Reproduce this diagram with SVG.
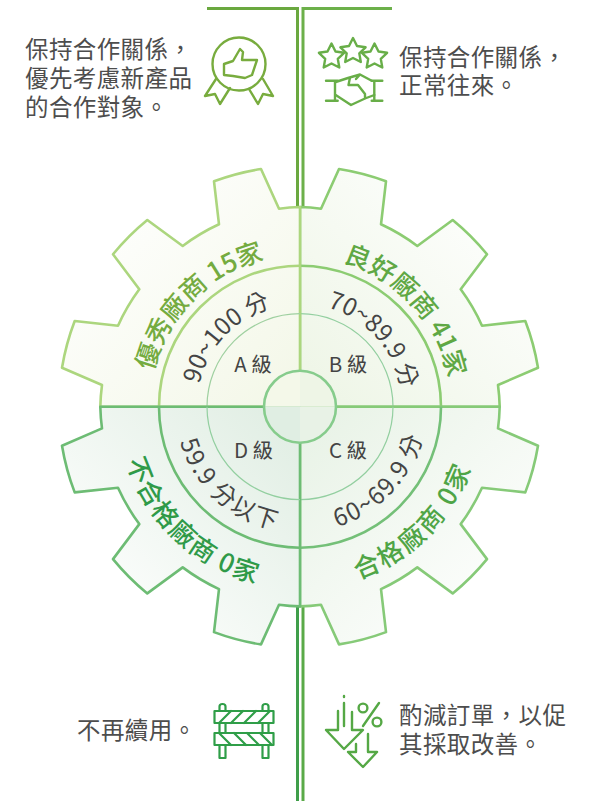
<svg xmlns="http://www.w3.org/2000/svg" width="596" height="801" viewBox="0 0 596 801">
<style>
text{font-family:"Noto Sans CJK TC","Noto Sans CJK SC",sans-serif}
.t{font-size:23.5px;fill:#4d4d4d;letter-spacing:.4px}
.o{font-size:26px;font-weight:500}
.m{font-size:24px;fill:#444}
.mb{font-size:24px;fill:#444;letter-spacing:1.6px}
.g{font-size:20.5px;fill:#444;text-anchor:middle}
.i{fill:none;stroke-width:2.4;stroke-linecap:round;stroke-linejoin:round}
.c{fill:none;stroke-width:3}
.r1{fill:none;stroke-width:2.6}
.r2{fill:none;stroke-width:1.2}
.gear{stroke-width:2.6;stroke-linejoin:round}
</style>
<defs>
<path id="gearTL" d="M-199.7,0 A200 200 0 0 1 -198,-21.7 L-238,-39 A241 241 0 0 1 -225.3,-85.7 L-182,-81 A200 200 0 0 1 -160.7,-117.4 L-187,-152.4 A241 241 0 0 1 -152.7,-186.7 L-117.3,-160.7 A200 200 0 0 1 -81,-182.4 L-86,-225.4 A241 241 0 0 1 -39,-237.7 L-21,-198 A200 200 0 0 1 0,-199.7 L0,0 Z"/>
<path id="star" d="M353,38 L357,46 L365.6,47.3 L359.3,53.4 L360.8,62 L353,58 L345.2,62 L346.7,53.4 L340.4,47.3 L349,46Z"/>
<linearGradient id="fTL" x1="0" y1="0" x2="1" y2="1"><stop offset=".1" stop-color="#fff"/><stop offset="1" stop-color="#f3f7e7"/></linearGradient>
<linearGradient id="fTR" x1="0" y1="0" x2="1" y2="1"><stop offset=".1" stop-color="#fff"/><stop offset="1" stop-color="#edf5e5"/></linearGradient>
<linearGradient id="fBR" x1="0" y1="0" x2="1" y2="1"><stop offset=".1" stop-color="#fff"/><stop offset="1" stop-color="#e7f2e5"/></linearGradient>
<linearGradient id="fBL" x1="0" y1="0" x2="1" y2="1"><stop offset=".1" stop-color="#fff"/><stop offset="1" stop-color="#dfede2"/></linearGradient>
<path id="oTL" d="M149,406.7 A151 151 0 0 1 300,255.7"/>
<path id="oTR" d="M300,255.7 A151 151 0 0 1 451,406.7"/>
<path id="oBL" d="M118,406.7 A182 182 0 0 0 300,588.7"/>
<path id="oBR" d="M300,588.7 A182 182 0 0 0 482,406.7"/>
<path id="mTL" d="M197,406.7 A103 103 0 0 1 300,303.7"/>
<path id="mTR" d="M300,303.7 A103 103 0 0 1 403,406.7"/>
<path id="mBL" d="M175,406.7 A125 125 0 0 0 300,531.7"/>
<path id="mBR" d="M300,532.7 A126 126 0 0 0 426,406.7"/>
</defs>
<g id="connectors">
<path class="c" stroke="#6aa83f" d="M207,8.5H297.5V209"/>
<path class="c" stroke="#6cb04a" d="M392,8.5H303V209"/>
<path class="c" stroke="#3f9e4a" d="M297.5,604V801"/>
<path class="c" stroke="#5aaa48" d="M303,604V801"/>
</g>
<g id="gear-b">
<use href="#gearTL" class="gear" fill="url(#fTR)" stroke="#8ccc72" transform="translate(300 406.7) scale(-1 1)"/>
<path class="r1" stroke="#8ccc72" d="M300,265.7A141 141 0 0 1 441,406.7"/>
<path class="r2" stroke="#93cfa0" d="M300,313.7A93 93 0 0 1 393,406.7"/>
<text class="o" fill="#5fa844"><textPath href="#oTR" startOffset="53%" text-anchor="middle">良好廠商 41家</textPath></text>
<text class="m"><textPath href="#mTR" startOffset="53%" text-anchor="middle">70~89.9 分</textPath></text>
<text class="g" x="348" y="372">B 級</text>
</g>
<g id="gear-c">
<use href="#gearTL" class="gear" fill="url(#fBR)" stroke="#86ca78" transform="translate(300 406.7) scale(-1 -1)"/>
<path class="r1" stroke="#74c078" d="M441,406.7A141 141 0 0 1 300,547.7"/>
<path class="r2" stroke="#93cfa0" d="M393,406.7A93 93 0 0 1 300,499.7"/>
<text class="o" fill="#4fa546" letter-spacing="2"><textPath href="#oBR" startOffset="49.5%" text-anchor="middle">合格廠商 0家</textPath></text>
<text class="mb"><textPath href="#mBR" startOffset="52%" text-anchor="middle">60~69.9 分</textPath></text>
<text class="g" x="348" y="458">C 級</text>
</g>
<g id="gear-a">
<use href="#gearTL" class="gear" fill="url(#fTL)" stroke="#acd67e" transform="translate(300 406.7)"/>
<path class="r1" stroke="#acd67e" d="M159,406.7A141 141 0 0 1 300,265.7"/>
<path class="r2" stroke="#9fd0a0" d="M207,406.7A93 93 0 0 1 300,313.7"/>
<text class="o" fill="#74ab40"><textPath href="#oTL" startOffset="50%" text-anchor="middle">優秀廠商 15家</textPath></text>
<text class="m"><textPath href="#mTL" startOffset="48%" text-anchor="middle">90~100 分</textPath></text>
<text class="g" x="253" y="372">A 級</text>
</g>
<g id="gear-d">
<use href="#gearTL" class="gear" fill="url(#fBL)" stroke="#6dbc74" transform="translate(300 406.7) scale(1 -1)"/>
<path class="r1" stroke="#6dbc74" d="M300,547.7A141 141 0 0 1 159,406.7"/>
<path class="r2" stroke="#93cfa0" d="M300,499.7A93 93 0 0 1 207,406.7"/>
<text class="o" fill="#2f9a48" letter-spacing="1.2"><textPath href="#oBL" startOffset="52%" text-anchor="middle">不合格廠商 0家</textPath></text>
<text class="mb"><textPath href="#mBL" startOffset="53%" text-anchor="middle">59.9 分以下</textPath></text>
<text class="g" x="253.5" y="458">D 級</text>
</g>
<g id="hub">
<path fill="#f4f8e9" d="M264,406.7A36 36 0 0 1 300,370.7V406.7Z"/>
<path fill="#eef5e6" d="M300,370.7A36 36 0 0 1 336,406.7H300Z"/>
<path fill="#e8f2e6" d="M336,406.7A36 36 0 0 1 300,442.7V406.7Z"/>
<path fill="#e0eee3" d="M300,442.7A36 36 0 0 1 264,406.7H300Z"/>
<circle cx="300" cy="406.7" r="36" fill="none" stroke="#86cc8c" stroke-width="2.6"/>
</g>
<g id="note-top-left">
<text class="t" x="25" y="58">保持合作關係，</text>
<text class="t" x="25" y="87">優先考慮新產品</text>
<text class="t" x="25" y="116">的合作對象。</text>
<g class="i" stroke="#78ac3e">
<circle cx="239" cy="64" r="26.5"/>
<path d="M216,79L205,96L215,94L220,104L230,88M263,79L273,96L263,94L258,104L249,89"/>
<path d="M224,64L233,61L240,49L243,52L242,60L257,60L252,75L245,78L233,76L224,75Z"/>
</g>
</g>
<g id="note-top-right">
<text class="t" x="399" y="66">保持合作關係，</text>
<text class="t" x="399" y="94">正常往來。</text>
<g class="i" stroke="#68ae48">
<use href="#star"/>
<use href="#star" x="-21.5" y="5.5"/>
<use href="#star" x="21.5" y="5.5"/>
<path d="M326,80.7H337.7M335,80.7V100.7M326,100.7H337.7M371.7,80.7H382.3M374.3,80.7V100.7M371.7,100.7H382.3"/>
<path d="M335.7,82L348,78L360,74.5L371.7,80.7M335.7,95L351,105L365,98.5L374.3,95M350,77.5L348.5,85L358,85L365,94V98.5M360,74.5L356,79"/>
</g>
</g>
<g id="note-bottom-left">
<text class="t" x="77" y="739">不再續用。</text>
<g class="i" stroke="#2f9e48">
<rect x="214.5" y="711" width="59" height="12" stroke-width="2.2"/>
<rect x="214.5" y="733" width="59" height="12" stroke-width="2.2"/>
<path stroke-width="2.2" d="M219.5,711V706.5Q219.5,704 222.5,704Q225.5,704 225.5,706.5V711M262.5,711V706.5Q262.5,704 265.5,704Q268.5,704 268.5,706.5V711M219.5,723V733M225.5,723V733M262.5,723V733M268.5,723V733M219.5,745V758H225.5V745M262.5,745V758H268.5V745"/>
<path stroke-width="2.2" d="M219,723L231,711M231,723L243,711M244,723L256,711M258,723L270,711M219,733L231,745M234,733L246,745M247,733L259,745M260,733L272,745"/>
</g>
</g>
<g id="note-bottom-right">
<text class="t" x="399" y="724">酌減訂單，以促</text>
<text class="t" x="399" y="753">其採取改善。</text>
<g class="i" stroke="#55a845">
<path d="M338,711V730H326L344,749L363,730H352V712M344,696V697M344,703V726"/>
<path d="M356,744V752H348L363,767L377,752H368V734"/>
<path d="M379,703L363,726"/>
<circle cx="363" cy="708" r="4.4"/>
<circle cx="377" cy="722" r="4.4"/>
</g>
</g>
</svg>
